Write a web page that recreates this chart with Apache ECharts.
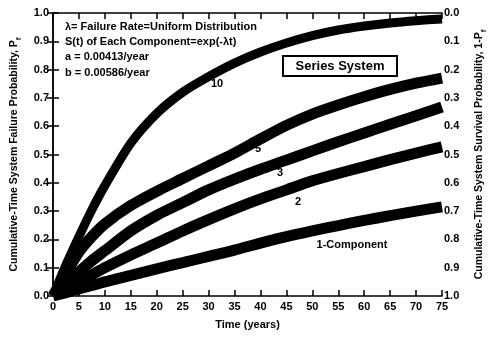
<!DOCTYPE html>
<html>
<head>
<meta charset="utf-8">
<script src="https://cdn.jsdelivr.net/npm/echarts@6/dist/echarts.min.js"></script>
<style>
  html, body { margin: 0; padding: 0; background: #fff; }
  #chart { width: 490px; height: 337px; }
</style>
</head>
<body>
<div id="chart"></div>
<script>
// 时间 (年)
const years = [0, 2.5, 5, 7.5, 10, 15, 20, 25, 30, 35, 40, 45, 50, 55, 60, 65, 70, 75];

// 各系统的累计失效概率
const comp10 = [0, 0.11, 0.21, 0.305, 0.39, 0.54, 0.645, 0.72, 0.775, 0.823, 0.862, 0.894, 0.92, 0.94, 0.954, 0.965, 0.973, 0.979];
const comp5  = [0, 0.08, 0.155, 0.21, 0.255, 0.32, 0.37, 0.415, 0.46, 0.505, 0.555, 0.603, 0.643, 0.675, 0.704, 0.73, 0.752, 0.77];
const comp3  = [0, 0.045, 0.085, 0.125, 0.16, 0.23, 0.285, 0.33, 0.375, 0.413, 0.448, 0.48, 0.513, 0.545, 0.576, 0.607, 0.637, 0.668];
const comp2  = [0, 0.025, 0.05, 0.075, 0.10, 0.145, 0.187, 0.23, 0.27, 0.308, 0.343, 0.375, 0.407, 0.433, 0.457, 0.482, 0.505, 0.527];
const comp1  = [0, 0.012, 0.025, 0.037, 0.05, 0.073, 0.096, 0.118, 0.14, 0.162, 0.187, 0.21, 0.23, 0.249, 0.267, 0.284, 0.30, 0.315];

// 刻度
const xTicks = [0, 5, 10, 15, 20, 25, 30, 35, 40, 45, 50, 55, 60, 65, 70, 75];
const yTicks = [0, 0.1, 0.2, 0.3, 0.4, 0.5, 0.6, 0.7, 0.8, 0.9, 1.0];

const font = 'Liberation Sans, Arial, sans-serif';
const pair = arr => years.map((t, i) => [t, arr[i]]);

const axisCommon = {
  axisLine: { show: true, lineStyle: { color: '#000', width: 1.5 } },
  axisTick: { show: true, inside: true, length: 6, lineStyle: { color: '#000', width: 1.5 } },
  splitLine: { show: false },
  axisLabel: { color: '#000', fontFamily: font, fontSize: 11, fontWeight: 'bold' },
};

const subRich = { s: { fontSize: 8, fontFamily: font, fontWeight: 'bold', verticalAlign: 'bottom', padding: [0, 0, -3, 0] } };

const bandSeries = (name, arr, width) => ({
  name,
  type: 'line',
  data: pair(arr),
  smooth: 0.25,
  symbol: 'none',
  lineStyle: { color: '#000', width },
  animation: false,
  z: 2,
});

const myChart = echarts.init(document.getElementById('chart'));

const option = {
  animation: false,
  grid: { left: 53, right: 48, top: 13, bottom: 41, containLabel: false, outerBoundsMode: 'none' },
  xAxis: [
    {
      ...axisCommon,
      type: 'value',
      min: 0, max: 75, interval: 5,
      position: 'bottom',
      name: 'Time (years)',
      nameLocation: 'middle',
      nameGap: 23,
      nameTextStyle: { color: '#000', fontFamily: font, fontSize: 11, fontWeight: 'bold' },
      axisLabel: { ...axisCommon.axisLabel, margin: 5, formatter: v => xTicks.includes(v) ? String(v) : '' },
    },
    {
      ...axisCommon,
      type: 'value',
      min: 0, max: 75, interval: 5,
      position: 'top',
      axisLabel: { show: false },
    },
  ],
  yAxis: [
    {
      ...axisCommon,
      type: 'value',
      min: 0, max: 1, interval: 0.1,
      position: 'left',
      name: 'Cumulative-Time System Failure Probability, P{s|f}',
      nameLocation: 'middle',
      nameGap: 33,
      nameTextStyle: { color: '#000', fontFamily: font, fontSize: 10.5, fontWeight: 'bold', rich: subRich },
      axisLabel: { ...axisCommon.axisLabel, margin: 4, formatter: v => yTicks.includes(+v.toFixed(1)) ? v.toFixed(1) : '' },
    },
    {
      ...axisCommon,
      type: 'value',
      min: 0, max: 1, interval: 0.1,
      inverse: true,
      position: 'right',
      name: 'Cumulative-Time System Survival Probability, 1-P{s|f}',
      nameLocation: 'middle',
      nameGap: 32,
      nameRotate: 90,
      nameTextStyle: { color: '#000', fontFamily: font, fontSize: 10.5, fontWeight: 'bold', rich: subRich },
      axisLabel: { ...axisCommon.axisLabel, margin: 2, formatter: v => v.toFixed(1) },
    },
  ],
  series: [
    bandSeries('10', comp10, 9),
    bandSeries('5', comp5, 11),
    bandSeries('3', comp3, 11),
    bandSeries('2', comp2, 11),
    bandSeries('1-Component', comp1, 11),
  ],
  graphic: [
    { type: 'text', left: 65, top: 21, style: { text: 'λ= Failure Rate=Uniform Distribution', font: 'bold 11px ' + font, fill: '#000' } },
    { type: 'text', left: 65, top: 36, style: { text: 'S(t) of Each Component=exp(-λt)', font: 'bold 11px ' + font, fill: '#000' } },
    { type: 'text', left: 65, top: 51, style: { text: 'a = 0.00413/year', font: 'bold 11px ' + font, fill: '#000' } },
    { type: 'text', left: 65, top: 67, style: { text: 'b = 0.00586/year', font: 'bold 11px ' + font, fill: '#000' } },
    {
      type: 'rect', shape: { x: 283, y: 56, width: 114, height: 20 },
      style: { fill: '#fff', stroke: '#000', lineWidth: 2 }, z: 10,
    },
    { type: 'text', x: 340, y: 66, z: 11, style: { text: 'Series System', font: 'bold 13px ' + font, fill: '#000', align: 'center', verticalAlign: 'middle' } },
    { type: 'text', x: 217, y: 84, z: 11, style: { text: '10', font: 'bold 11px ' + font, fill: '#000', align: 'center', verticalAlign: 'middle' } },
    { type: 'text', x: 258, y: 149, z: 11, style: { text: '5', font: 'bold 11px ' + font, fill: '#000', align: 'center', verticalAlign: 'middle' } },
    { type: 'text', x: 280, y: 173, z: 11, style: { text: '3', font: 'bold 11px ' + font, fill: '#000', align: 'center', verticalAlign: 'middle' } },
    { type: 'text', x: 298, y: 202, z: 11, style: { text: '2', font: 'bold 11px ' + font, fill: '#000', align: 'center', verticalAlign: 'middle' } },
    { type: 'text', x: 352, y: 245, z: 11, style: { text: '1-Component', font: 'bold 11px ' + font, fill: '#000', align: 'center', verticalAlign: 'middle' } },
  ],
};

myChart.setOption(option);
window.addEventListener('resize', () => myChart.resize());
</script>
</body>
</html>
